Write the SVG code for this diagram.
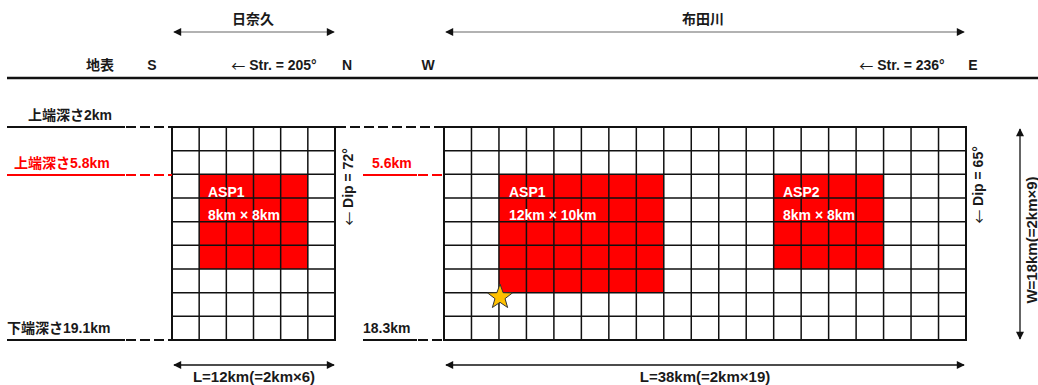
<svg xmlns="http://www.w3.org/2000/svg" width="1038" height="385" viewBox="0 0 1038 385">
<style>
text{font-family:"Liberation Sans","Noto Sans CJK JP",sans-serif;font-size:14px;fill:#1a1a1a;dominant-baseline:central}
.b{font-weight:bold}
.r{fill:#ff0000}
.w{fill:#ffffff;font-weight:bold}
.m{text-anchor:middle}
.dim{font-weight:bold;font-size:15px}
.arw{font-family:"Noto Sans CJK JP",sans-serif;font-weight:normal}
.grid{fill:none;stroke:#111;stroke-width:1.5}
.frame{fill:none;stroke:#111;stroke-width:2}
.asp{fill:#ff0000}
.blk{stroke:#111;stroke-width:2;fill:none}
.red{stroke:#ff0000;stroke-width:2;fill:none}
.dash{stroke-dasharray:10 4}
.gar{stroke:#999;stroke-width:1.5;fill:none;marker-start:url(#ah);marker-end:url(#ah)}
.kar{stroke:#111;stroke-width:1.3;fill:none;marker-start:url(#ah);marker-end:url(#ah)}
</style>
<defs>
<marker id="ah" viewBox="0 0 10 10" refX="9" refY="5" markerWidth="9" markerHeight="8" markerUnits="userSpaceOnUse" orient="auto-start-reverse">
<path d="M0,0 L10,5 L0,10 z" fill="#111"/>
</marker>
</defs>
<rect width="1038" height="385" fill="#ffffff"/>

<g id="header">
<text class="b m" x="253" y="19">日奈久</text>
<text class="b m" x="703" y="19">布田川</text>
<text class="b m" x="100" y="65">地表</text>
<text class="b m" x="152" y="65">S</text>
<text class="b m" x="274" y="65"><tspan class="arw">←</tspan> Str. = 205°</text>
<text class="b m" x="347" y="65">N</text>
<text class="b m" x="428" y="65">W</text>
<text class="b m" x="902" y="65"><tspan class="arw">←</tspan> Str. = 236°</text>
<text class="b m" x="973" y="65">E</text>
<line x1="7" y1="78" x2="1038" y2="78" stroke="#111" stroke-width="2.5"/>
</g>

<g id="depth-labels">
<text class="b" x="28" y="115">上端深さ2km</text>
<text class="b r" x="14" y="163">上端深さ5.8km</text>
<text class="b r" x="372" y="163">5.6km</text>
<text class="b" x="7" y="328">下端深さ19.1km</text>
<text class="b" x="363" y="328">18.3km</text>
</g>

<g id="fault-hinagu">
<rect class="asp" x="199.17" y="174.33" width="108.67" height="94.67"/>
<path class="grid" d="M199.17,127V340M226.33,127V340M253.5,127V340M280.67,127V340M307.83,127V340M172,150.67H335M172,174.33H335M172,198H335M172,221.67H335M172,245.33H335M172,269H335M172,292.67H335M172,316.33H335"/>
<rect class="frame" x="172" y="127" width="163" height="213"/>
<text class="w" x="208" y="192">ASP1</text>
<text class="w" x="208" y="215">8km × 8km</text>
<text class="b" transform="translate(348,187) rotate(-90)" text-anchor="middle"><tspan class="arw">←</tspan> Dip = 72°</text>
</g>

<g id="fault-futagawa">
<rect class="asp" x="498.95" y="174.33" width="164.84" height="118.34"/>
<rect class="asp" x="773.68" y="174.33" width="109.9" height="94.67"/>
<path class="grid" d="M471.47,127V340M498.95,127V340M526.42,127V340M553.89,127V340M581.37,127V340M608.84,127V340M636.32,127V340M663.79,127V340M691.26,127V340M718.74,127V340M746.21,127V340M773.68,127V340M801.16,127V340M828.63,127V340M856.11,127V340M883.58,127V340M911.05,127V340M938.53,127V340M444,150.67H966M444,174.33H966M444,198H966M444,221.67H966M444,245.33H966M444,269H966M444,292.67H966M444,316.33H966"/>
<rect class="frame" x="444" y="127" width="522" height="213"/>
<text class="w" x="509" y="192">ASP1</text>
<text class="w" x="509" y="215">12km × 10km</text>
<text class="w" x="783" y="192">ASP2</text>
<text class="w" x="783" y="215">8km × 8km</text>
<text class="b" transform="translate(978,185) rotate(-90)" text-anchor="middle"><tspan class="arw">←</tspan> Dip = 65°</text>
<polygon id="hypocenter" points="500,284 503.12,292.71 512.36,292.98 505.04,298.64 507.64,307.52 500,302.3 492.36,307.52 494.96,298.64 487.64,292.98 496.88,292.71" fill="#ffc000" stroke="#333" stroke-width="1"/>
</g>

<g id="connectors">
<line class="gar" x1="174" y1="32" x2="334" y2="32"/>
<line class="gar" x1="446" y1="32" x2="964" y2="32"/>
<path class="blk" d="M7,127H125"/>
<path class="blk dash" d="M126,127H172M336,127H444"/>
<path class="red" d="M7,175H125M363,175H417"/>
<path class="red dash" d="M126,175H172M418,175H444"/>
<path class="blk" d="M7,340H125M363,340H417"/>
<path class="blk dash" d="M126,340H172M418,340H444"/>
<line class="kar" x1="1020" y1="129" x2="1020" y2="339"/>
<line class="kar" x1="174" y1="365" x2="334" y2="365"/>
<line class="kar" x1="446" y1="365" x2="964" y2="365"/>
</g>

<g id="dimension-labels">
<text class="dim" transform="translate(1031,240) rotate(-90)" text-anchor="middle">W=18km(=2km×9)</text>
<text class="dim m" x="254" y="376">L=12km(=2km×6)</text>
<text class="dim m" x="705" y="376">L=38km(=2km×19)</text>
</g>
</svg>
